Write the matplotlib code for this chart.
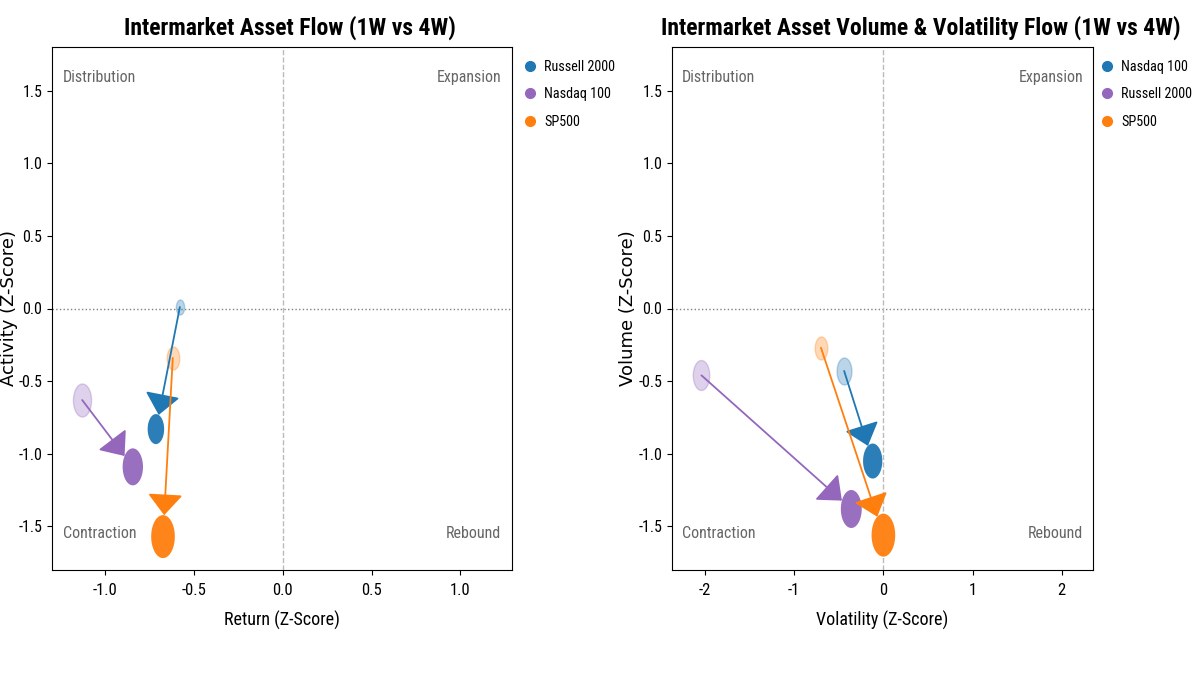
import numpy as np
import matplotlib
matplotlib.use("Agg")
import matplotlib.pyplot as plt
import matplotlib.font_manager as fm
from matplotlib.path import Path
from matplotlib.markers import MarkerStyle
from matplotlib.lines import Line2D

# ---------------- data ----------------
# Left panel: Return vs Activity
left_names = ["Russell 2000", "Nasdaq 100", "SP500"]
left_colors = ["#1f77b4", "#9467bd", "#ff7f0e"]
left_ret_4w = [-0.58, -1.13, -0.62]
left_act_4w = [0.01, -0.63, -0.34]
left_ret_1w = [-0.715, -0.845, -0.675]
left_act_1w = [-0.83, -1.09, -1.57]
left_size_4w = [15, 33, 23]
left_size_1w = [30, 37, 43]

# Right panel: Volatility vs Volume
right_names = ["Nasdaq 100", "Russell 2000", "SP500"]
right_colors = ["#1f77b4", "#9467bd", "#ff7f0e"]
right_vol_4w = [-0.44, -2.04, -0.70]
right_volu_4w = [-0.43, -0.46, -0.27]
right_vol_1w = [-0.12, -0.36, 0.0]
right_volu_1w = [-1.05, -1.38, -1.56]
right_size_4w = [27, 30, 23]
right_size_1w = [35, 38, 43]

xticks_left = [-1.0, -0.5, 0.0, 0.5, 1.0]
xticks_right = [-2, -1, 0, 1, 2]
yticks = [-1.5, -1.0, -0.5, 0.0, 0.5, 1.0, 1.5]
quadrants = ["Distribution", "Expansion", "Contraction", "Rebound"]

# ---------------- fonts ----------------
avail = {f.name for f in fm.fontManager.ttflist}
cond = "DejaVu Sans"
for cand in ["Roboto Condensed", "Barlow Condensed", "Liberation Sans Narrow", "Open Sans Condensed"]:
    if cand in avail:
        cond = cand
        break
plt.rcParams["font.family"] = [cond, "DejaVu Sans"]
plt.rcParams["axes.unicode_minus"] = False

ASPECT = 0.55
t = np.linspace(0, 2 * np.pi, 80)
ell_verts = np.column_stack([ASPECT * 0.5 * np.cos(t), 0.5 * np.sin(t)])
ell_marker = MarkerStyle(Path(ell_verts, closed=True))

PX2PT = 72.0 / 100.0

fig = plt.figure(figsize=(12, 6.75), dpi=100)
fig.patch.set_facecolor("white")
ax1 = fig.add_axes([52 / 1200, 105 / 675, 460 / 1200, 523 / 675])
ax2 = fig.add_axes([672 / 1200, 105 / 675, 421 / 1200, 523 / 675])


def draw_panel(ax, names, colors, x4, y4, x1, y1, s4, s1, xlim, xticks,
               title, xlabel, ylabel, title_x, ylab_x, leg_x):
    ax.set_xlim(*xlim)
    ax.set_ylim(-1.8, 1.8)
    ax.axhline(0, color="gray", linestyle=":", linewidth=1, zorder=0)
    ax.axvline(0, color="#bbbbbb", linestyle="--", linewidth=1, zorder=0)
    for i, name in enumerate(names):
        c = colors[i]
        h4 = s4[i] * PX2PT
        h1 = s1[i] * PX2PT
        ax.scatter([x4[i]], [y4[i]], s=h4 ** 2, marker=ell_marker, color=c,
                   alpha=0.3, edgecolors=c, linewidths=1, zorder=2)
        ax.scatter([x1[i]], [y1[i]], s=h1 ** 2, marker=ell_marker, color=c,
                   alpha=0.95, edgecolors="none", zorder=3)
        # shrink arrow to ellipse edge in display direction
        p0 = ax.transData.transform((x4[i], y4[i]))
        p1 = ax.transData.transform((x1[i], y1[i]))
        d = p1 - p0
        ang = np.arctan2(d[1], d[0])
        a = 0.5 * s1[i] * ASPECT
        b = 0.5 * s1[i]
        r = 1.0 / np.sqrt((np.cos(ang) / a) ** 2 + (np.sin(ang) / b) ** 2)
        ax.annotate("", xy=(x1[i], y1[i]), xytext=(x4[i], y4[i]),
                    arrowprops=dict(arrowstyle="-|>,head_length=0.6,head_width=0.5",
                                    mutation_scale=22, color=c, lw=1.3,
                                    shrinkA=0, shrinkB=r * PX2PT),
                    zorder=4)
    ax.set_xticks(xticks)
    ax.set_yticks(yticks)
    ax.tick_params(axis="x", labelsize=12, pad=6)
    ax.tick_params(axis="y", labelsize=11.5)
    ttl = ax.set_title(title, fontsize=17, fontweight="bold", pad=9)
    ttl.set_x(title_x)
    ax.set_xlabel(xlabel, fontsize=13, labelpad=9)
    ax.set_ylabel(ylabel, fontsize=13, family="DejaVu Sans")
    ax.yaxis.set_label_coords(ylab_x, 0.5)
    qc = "#666666"
    fs = 11.5
    ax.text(0.024, 0.942, quadrants[0], transform=ax.transAxes, ha="left",
            va="center", color=qc, fontsize=fs)
    ax.text(0.976, 0.942, quadrants[1], transform=ax.transAxes, ha="right",
            va="center", color=qc, fontsize=fs)
    ax.text(0.024, 0.069, quadrants[2], transform=ax.transAxes, ha="left",
            va="center", color=qc, fontsize=fs)
    ax.text(0.976, 0.069, quadrants[3], transform=ax.transAxes, ha="right",
            va="center", color=qc, fontsize=fs)
    handles = [Line2D([], [], marker="o", linestyle="none", color=colors[i],
                      markersize=7, label=names[i]) for i in range(len(names))]
    ax.legend(handles=handles, loc="upper left", bbox_to_anchor=(leg_x, 1.0),
              frameon=False, fontsize=10.2, handlelength=1.0,
              handletextpad=0.5, labelspacing=0.95)


draw_panel(ax1, left_names, left_colors, left_ret_4w, left_act_4w,
           left_ret_1w, left_act_1w, left_size_4w, left_size_1w,
           (-1.3, 1.29), xticks_left, "Intermarket Asset Flow (1W vs 4W)",
           "Return (Z-Score)", "Activity (Z-Score)",
           title_x=0.517, ylab_x=-0.073, leg_x=0.996)
draw_panel(ax2, right_names, right_colors, right_vol_4w, right_volu_4w,
           right_vol_1w, right_volu_1w, right_size_4w, right_size_1w,
           (-2.37, 2.35), xticks_right,
           "Intermarket Asset Volume & Volatility Flow (1W vs 4W)",
           "Volatility (Z-Score)", "Volume (Z-Score)",
           title_x=0.59, ylab_x=-0.082, leg_x=0.986)

fig.savefig("out.png", dpi=100, facecolor="white")
